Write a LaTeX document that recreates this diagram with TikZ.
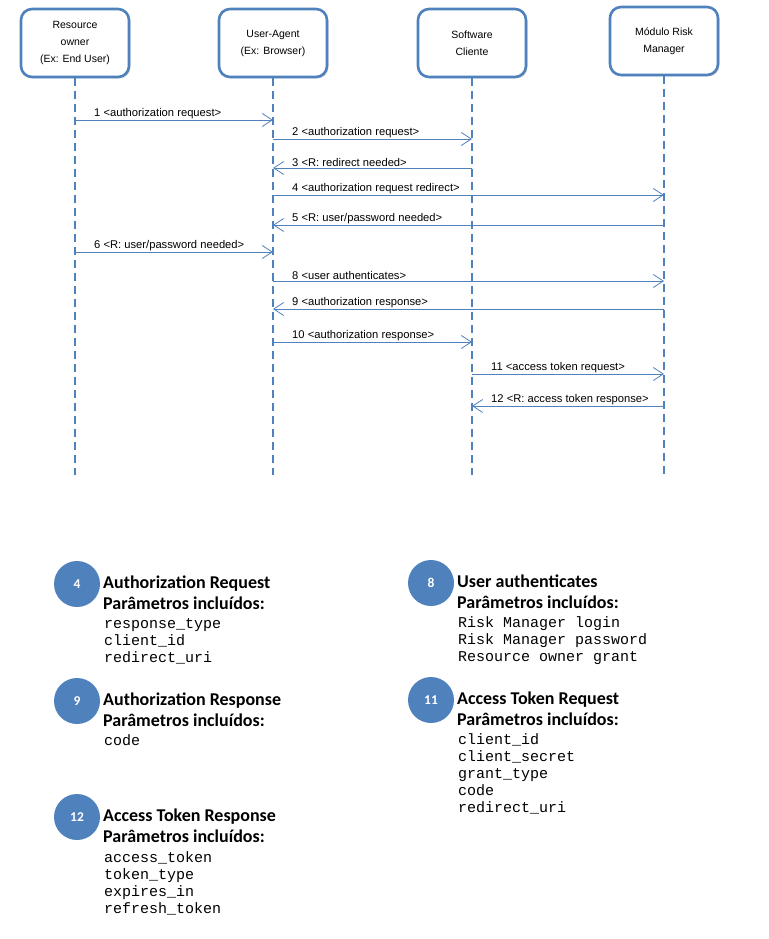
\documentclass[tikz,border=0pt]{standalone}
\usepackage{fontspec}
\setmainfont{Liberation Sans}
\setmonofont{Liberation Mono}
\newfontfamily\headfont{Carlito}
\usepackage{tikz}
\usetikzlibrary{arrows.meta, positioning, shadows}
\definecolor{seqblue}{RGB}{79,129,189}

\begin{document}
\begin{tikzpicture}[x=1pt, y=-1pt,
    actor/.style={draw=seqblue, line width=2.6pt, rounded corners=11pt, fill=white,
        minimum width=108pt, minimum height=68pt, align=center,
        font=\fontsize{10.5}{17}\selectfont,
        drop shadow={shadow xshift=1.5pt, shadow yshift=-1.5pt, opacity=0.3}},
    lifeline/.style={seqblue, line width=2.3pt, dash pattern=on 8pt off 5pt},
    msg/.style={seqblue, line width=0.8pt, -{Straight Barb[length=10pt, width=13pt]}},
    msglabel/.style={anchor=south west, inner sep=1pt, font=\fontsize{11.2}{13}\selectfont},
    stepnum/.style={circle, fill=seqblue, minimum size=46pt, inner sep=0pt, text=white,
        font=\headfont\bfseries\fontsize{13.5}{15}\selectfont},
    steptitle/.style={anchor=base west, inner sep=0pt, align=left,
        font=\headfont\bfseries\fontsize{18}{21}\selectfont},
    params/.style={anchor=base west, inner sep=0pt, align=left, font=\ttfamily\fontsize{15}{17}\selectfont}
]
    \useasboundingbox (0,0) rectangle (768,939);

    % Actors
    \node[actor] (ro) at (75,43) {Resource\\owner\\(Ex: End User)};
    \node[actor] (ua) at (273,43) {User-Agent\\(Ex: Browser)};
    \node[actor] (sc) at (472,43) {Software\\Cliente};
    \node[actor] (rm) at (664,41) {Módulo Risk\\Manager};

    % Lifelines
    \coordinate (bottom) at (0,475);
    \foreach \n in {ro,ua,sc,rm}
        \draw[lifeline] (\n.south) -- (\n |- bottom);

    % Messages
    \foreach \src/\dst/\my/\lft/\txt in {
        ro/ua/120/ro/{1 <authorization request>},
        ua/sc/139/ua/{2 <authorization request>},
        sc/ua/168/ua/{3 <R: redirect needed>},
        ua/rm/195/ua/{4 <authorization request redirect>},
        rm/ua/225/ua/{5 <R: user/password needed>},
        ro/ua/252/ro/{6 <R: user/password needed>},
        ua/rm/281/ua/{8 <user authenticates>},
        rm/ua/309/ua/{9 <authorization response>},
        ua/sc/342/ua/{10 <authorization response>},
        sc/rm/374/sc/{11 <access token request>},
        rm/sc/406/sc/{12 <R: access token response>}
    }{
        \draw[msg] (\src |- 0,\my) -- (\dst |- 0,\my);
        \path (\lft |- 0,\my) node[msglabel, xshift=18pt] (m\my) {\txt};
    }

    % Parameter notes (base anchor = last line)
    \node[stepnum] (c4) at (77,584) {4};
    \node[steptitle] (t4) at (103,609) {Authorization Request\\Parâmetros incluídos:};
    \node[params] (v4) at (104,662) {response\_type\\client\_id\\redirect\_uri};

    \node[stepnum] (c8) at (431,583) {8};
    \node[steptitle] (t8) at (457,608) {User authenticates\\Parâmetros incluídos:};
    \node[params] (v8) at (458,661) {Risk Manager login\\Risk Manager password\\Resource owner grant};

    \node[stepnum] (c9) at (77,701) {9};
    \node[steptitle] (t9) at (103,726) {Authorization Response\\Parâmetros incluídos:};
    \node[params] (v9) at (104,745) {code};

    \node[stepnum] (c11) at (431,700) {11};
    \node[steptitle] (t11) at (457,725) {Access Token Request\\Parâmetros incluídos:};
    \node[params] (v11) at (458,812) {client\_id\\client\_secret\\grant\_type\\code\\redirect\_uri};

    \node[stepnum] (c12) at (77,817) {12};
    \node[steptitle] (t12) at (103,842) {Access Token Response\\Parâmetros incluídos:};
    \node[params] (v12) at (104,913) {access\_token\\token\_type\\expires\_in\\refresh\_token};
\end{tikzpicture}
\end{document}
